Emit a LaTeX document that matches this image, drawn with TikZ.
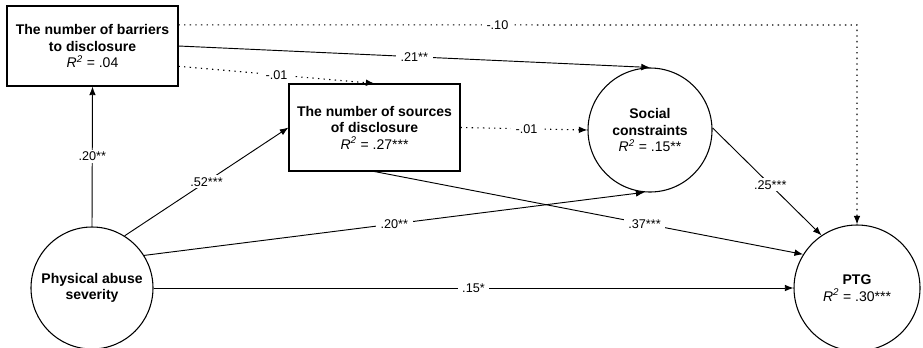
\documentclass[tikz,border=0pt]{standalone}
\usepackage{fontspec}
\setmainfont{Liberation Sans}
\usepackage{tikz}
\usetikzlibrary{calc,arrows.meta}

\tikzset{
    varbox/.style={draw, rectangle, line width=0.8pt, align=center, inner sep=2pt,
        minimum width=128.25pt, font=\bfseries\fontsize{10.5}{12.4}\selectfont},
    varcircle/.style={draw, circle, line width=0.8pt, align=center, inner sep=0pt,
        font=\bfseries\fontsize{10.5}{12.4}\selectfont},
    effect/.style={line width=0.7pt, -{Latex[length=6.5pt,width=5pt]}},
    nseffect/.style={effect, line width=0.8pt, dash pattern=on 1pt off 3.2pt},
    coef/.style={fill=white, inner xsep=3.5pt, inner ysep=1.5pt, font=\fontsize{9.5}{11}\selectfont}
}
\newcommand{\rsq}[1]{\mdseries\itshape R\textsuperscript{2}\upshape{} = #1}

\begin{document}
\begin{tikzpicture}[x=0.75pt, y=-0.75pt]
    \useasboundingbox (0,0) rectangle (923,347);

    % Variables
    \node[varbox, minimum height=60pt] (barriers) at (92.5,46)
        {The number of barriers\\to disclosure\\\rsq{.04}};
    \node[varbox, minimum height=65.25pt] (sources) at (374.5,127.5)
        {The number of sources\\of disclosure\\\rsq{.27***}};
    \node[varcircle, minimum size=93pt] (social) at (650,130)
        {Social\\constraints\\\rsq{.15**}};
    \node[varcircle, minimum size=91.5pt] (abuse) at (92,288)
        {Physical abuse\\severity};
    \node[varcircle, minimum size=94.5pt] (ptg) at (857,288)
        {PTG\\\rsq{.30***}};

    % Paths
    \coordinate (turn) at (857,25);
    \draw[nseffect] ($(barriers.north east)!0.24!(barriers.south east)$)
        -- node[coef, pos=0.47] {-.10} (turn) -- (ptg.north);
    \draw[effect] (barriers.east) -- node[coef, pos=0.5] {.21**} (social.north);
    \draw[nseffect] ($(barriers.north east)!0.75!(barriers.south east)$)
        -- node[coef, pos=0.5] {-.01} (sources.north);
    \draw[nseffect] (sources.east) -- node[coef, pos=0.52] {-.01} (social.west);
    \draw[effect] (abuse.north) -- node[coef, pos=0.5] {.20**} (barriers.south);
    \draw[effect] (abuse.58) -- node[coef, pos=0.5] {.52***} (sources.west);
    \draw[effect] (abuse.32) -- node[coef, pos=0.5] {.20**} (social.265);
    \draw[effect] (sources.south) -- node[coef, pos=0.63] {.37***} (ptg.148);
    \draw[effect] (social.2) -- node[coef, pos=0.53] {.25***} (ptg.124);
    \draw[effect] (abuse.east) -- node[coef, pos=0.5] {.15*} (ptg.west);
\end{tikzpicture}
\end{document}
